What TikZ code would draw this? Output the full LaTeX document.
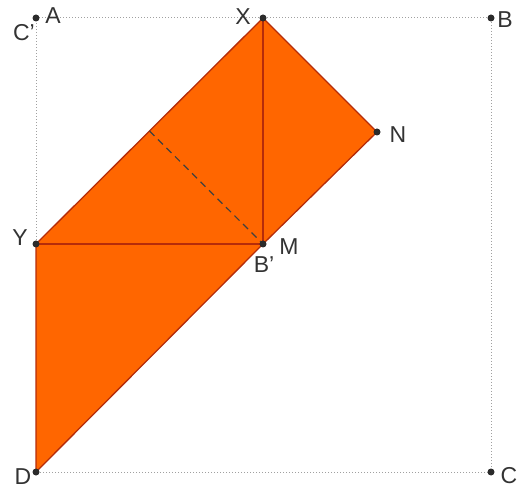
\documentclass[tikz,border=0pt]{standalone}
\usepackage{fontspec}
\setmainfont{Liberation Sans}
\usepackage{tikz}
\usetikzlibrary{calc}
\definecolor{geoFill}{HTML}{FF6600}
\definecolor{geoEdge}{HTML}{B52C0A}
\definecolor{geoDot}{HTML}{2B2B2B}
\definecolor{geoFrame}{HTML}{A0A0A0}
\definecolor{geoText}{HTML}{333333}
\tikzset{
  geoFrameLine/.style={draw=geoFrame, dotted, line width=1pt},
  geoFace/.style={fill=geoFill, draw=geoEdge, line width=1.3pt, line join=round},
  geoSeg/.style={draw=geoEdge, line width=1.5pt},
  geoDash/.style={draw=geoDot!90, line width=1.2pt, dash pattern=on 7pt off 5pt},
  geoPt/.style={circle, fill=geoDot, inner sep=0pt, minimum size=7pt},
  geoLab/.style={text=geoText, font=\fontsize{23}{23}\selectfont, inner sep=0pt}
}
\begin{document}
\begin{tikzpicture}[x=1pt, y=-1pt]
  \useasboundingbox (0,0) rectangle (523,492);
  % points
  \coordinate (A) at (36,18);
  \coordinate (B) at (491,18);
  \coordinate (C) at (491,472);
  \coordinate (D) at (36,472);
  \coordinate (X) at (263,18);
  \coordinate (Y) at (36,244);
  \coordinate (M) at (263,244);
  \coordinate (N) at (377,132);
  \coordinate (H) at ($(X)!0.5!(Y)$);

  \draw[geoFrameLine] (A) -- (B) -- (C) -- (D) -- cycle;
  \path[geoFace] (D) -- (Y) -- (X) -- (N) -- (M) -- cycle;
  \draw[geoSeg] (Y) -- (M);
  \draw[geoSeg] (X) -- (M);
  \draw[geoDash] (H) -- (M);

  \foreach \p in {A,B,C,D,X,Y,M,N}
    \node[geoPt] at (\p) {};

  \node[geoLab] (labA) at (53,16) {A};
  \node[geoLab] (labCp) at (24,33) {C{\char"0027}};
  \node[geoLab] (labB) at (505,20) {B};
  \node[geoLab] (labX) at (243,17) {X};
  \node[geoLab] (labN) at (398,135) {N};
  \node[geoLab] (labY) at (20,238) {Y};
  \node[geoLab] (labM) at (289,247) {M};
  \node[geoLab] (labBp) at (264,265) {B{\char"0027}};
  \node[geoLab] (labD) at (23,477) {D};
  \node[geoLab] (labC) at (509,476) {C};
\end{tikzpicture}
\end{document}
